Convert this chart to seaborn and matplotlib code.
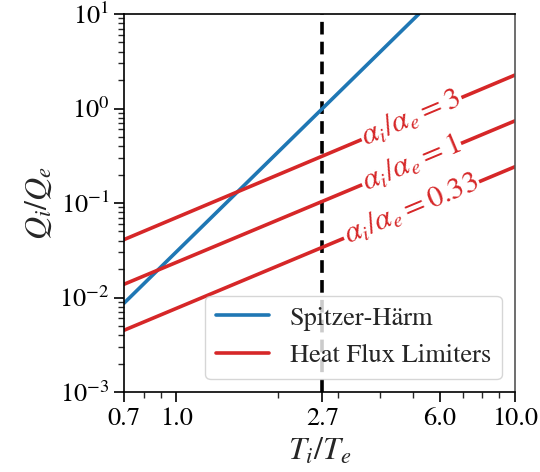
import numpy as np
import matplotlib
matplotlib.use("Agg")
import matplotlib.pyplot as plt
import seaborn as sns
from matplotlib.ticker import NullFormatter, FixedLocator, FixedFormatter

# data
sh_x = [0.7, 2.7, 5.2]
sh_y = [0.0087, 1.0, 10.0]

hfl_x = [0.7, 10.0]
hfl_ratio = ["3", "1", "0.33"]
hfl_y = {
    "3": [0.041, 2.26],
    "1": [0.0138, 0.74],
    "0.33": [0.0045, 0.242],
}

x_ticks = [0.7, 1.0, 2.7, 6.0, 10.0]
x_ticklabels = ["0.7", "1.0", "2.7", "6.0", "10.0"]
x_mark = 2.7
label_x = 4.95

sns.set_theme(style="ticks")
plt.rcParams["font.family"] = ["STIXGeneral", "DejaVu Serif"]
plt.rcParams["mathtext.fontset"] = "stix"

blue = "#1f77b4"
red = "#d62728"

fig = plt.figure(figsize=(5.4, 4.72), dpi=100)
ax = fig.add_axes([0.2296, 0.1695, 0.724, 0.8008])

sns.lineplot(x=sh_x, y=sh_y, ax=ax, color=blue, lw=2.6, label="Spitzer-Härm")
for i, r in enumerate(hfl_ratio):
    sns.lineplot(x=hfl_x, y=hfl_y[r], ax=ax, color=red, lw=2.6,
                 label="Heat Flux Limiters" if i == 0 else None)

ax.axvline(x_mark, color="black", ls=(0, (3.5, 2)), lw=2.6, zorder=1)

ax.set_xscale("log")
ax.set_yscale("log")
ax.set_xlim(0.7, 10)
ax.set_ylim(1e-3, 1e1)

ax.xaxis.set_major_locator(FixedLocator(x_ticks))
ax.xaxis.set_major_formatter(FixedFormatter(x_ticklabels))
ax.xaxis.set_minor_formatter(NullFormatter())

ax.tick_params(axis="both", which="major", labelsize=19, length=7, width=1.2,
               direction="out", colors="black")
ax.tick_params(axis="both", which="minor", length=4, width=1.0, direction="out")
ax.tick_params(top=False, right=False, which="both")

for s in ["left", "bottom", "top"]:
    ax.spines[s].set_color("black")
    ax.spines[s].set_linewidth(1.2)
ax.spines["right"].set_color("#555555")
ax.spines["right"].set_linewidth(1.2)

ax.set_xlabel(r"$T_i/T_e$", fontsize=23)
ax.set_ylabel(r"$Q_i/Q_e$", fontsize=23)

# inline labels along the red lines
for r in hfl_ratio:
    lx = np.log10(hfl_x)
    ly = np.log10(hfl_y[r])
    yy = 10 ** np.interp(np.log10(label_x), lx, ly)
    p0 = ax.transData.transform((hfl_x[0], hfl_y[r][0]))
    p1 = ax.transData.transform((hfl_x[1], hfl_y[r][1]))
    ang = np.degrees(np.arctan2(p1[1] - p0[1], p1[0] - p0[0]))
    ax.text(label_x, yy, r"$\alpha_i/\alpha_e = %s$" % r, color=red, fontsize=22,
            rotation=ang, rotation_mode="anchor", ha="center", va="center",
            bbox=dict(facecolor="white", edgecolor="none", pad=1.0), zorder=3)

ax.legend(loc="lower right", fontsize=19, framealpha=0.8, borderaxespad=0.5,
          handlelength=2.0)

fig.savefig("out.png", dpi=100)
